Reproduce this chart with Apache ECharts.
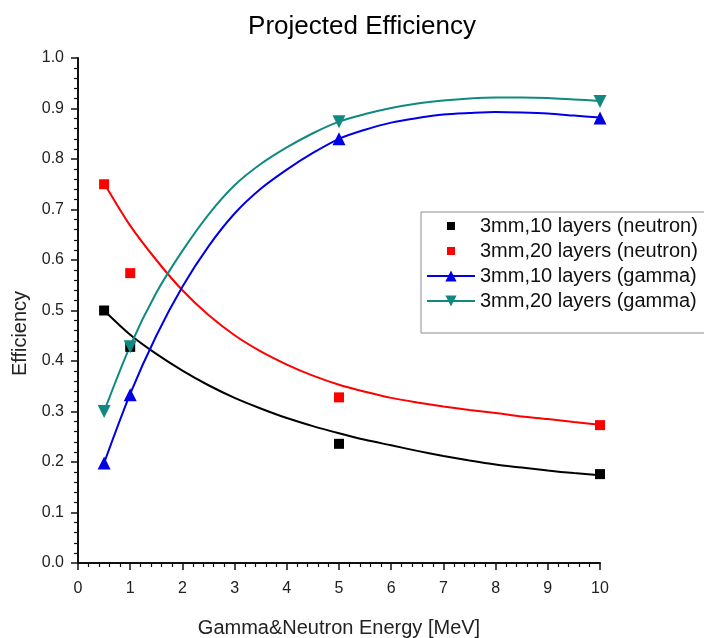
<!DOCTYPE html>
<html>
<head>
<meta charset="utf-8">
<title>Projected Efficiency</title>
<script src="https://cdn.jsdelivr.net/npm/echarts@6/dist/echarts.min.js"></script>
<style>
  html, body { margin: 0; padding: 0; background: #fff; }
  #chart { width: 704px; height: 638px; }
</style>
</head>
<body>
<div id="chart"></div>
<script>
// Measured points (energy in MeV)
const energies = [0.5, 1, 5, 10];
const neutron10 = [0.50, 0.428, 0.236, 0.176];
const neutron20 = [0.750, 0.574, 0.328, 0.273];
const gamma10 = [0.198, 0.333, 0.840, 0.881];
const gamma20 = [0.300, 0.428, 0.874, 0.914];

// Fitted trend curves, sampled every 0.5 MeV
const fitEnergies = [0.5, 1, 1.5, 2, 2.5, 3, 3.5, 4, 4.5, 5, 5.5, 6, 6.5, 7, 7.5, 8, 8.5, 9, 9.5, 10];
const fitNeutron10 = [0.500, 0.452, 0.414, 0.381, 0.352, 0.327, 0.306, 0.287, 0.271, 0.257, 0.244, 0.233, 0.222, 0.212, 0.203, 0.195, 0.189, 0.183, 0.178, 0.174];
const fitNeutron20 = [0.752, 0.668, 0.600, 0.540, 0.491, 0.451, 0.419, 0.393, 0.371, 0.353, 0.339, 0.327, 0.318, 0.310, 0.303, 0.297, 0.290, 0.285, 0.279, 0.274];
const fitGamma10 = [0.198, 0.335, 0.450, 0.547, 0.627, 0.692, 0.741, 0.779, 0.812, 0.840, 0.858, 0.872, 0.881, 0.888, 0.891, 0.893, 0.892, 0.890, 0.886, 0.882];
const fitGamma20 = [0.300, 0.430, 0.535, 0.618, 0.690, 0.748, 0.790, 0.823, 0.851, 0.874, 0.889, 0.901, 0.910, 0.916, 0.920, 0.922, 0.922, 0.921, 0.918, 0.915];

const seriesNames = [
  '3mm,10 layers (neutron)',
  '3mm,20 layers (neutron)',
  '3mm,10 layers (gamma)',
  '3mm,20 layers (gamma)'
];

const C_BLACK = '#000000';
const C_RED = '#ff0000';
const C_BLUE = '#0000e6';
const C_TEAL = '#108a80';

const FONT = 'Liberation Sans, Arial, sans-serif';

function pairs(xs, ys) {
  return xs.map((x, i) => [x, ys[i]]);
}

// Small square legend icon with transparent margin around it
const smallSquare = 'path://M0,0M14,14M3,3L11,3L11,11L3,11Z';
const downTriangle = 'path://M0,0L10,0L5,9Z';

function fitLine(name, data, color, symbol) {
  return {
    name: name,
    type: 'line',
    data: data,
    smooth: 0.3,
    symbol: symbol || 'none',
    showSymbol: false,
    lineStyle: { color: color, width: 2 },
    itemStyle: { color: color },
    emphasis: { disabled: true },
    z: 2
  };
}

function markers(name, data, color, symbol, size) {
  return {
    name: name,
    type: 'scatter',
    data: data,
    symbol: symbol,
    symbolSize: size,
    itemStyle: { color: color, opacity: 1 },
    emphasis: { disabled: true },
    z: 3
  };
}

const chart = echarts.init(document.getElementById('chart'), null, { renderer: 'canvas' });

chart.setOption({
  animation: false,
  backgroundColor: '#ffffff',
  title: {
    text: 'Projected Efficiency',
    left: 357,
    top: 9,
    textAlign: 'center',
    textStyle: { fontFamily: FONT, fontSize: 26, fontWeight: 'normal', color: '#000' }
  },
  legend: {
    orient: 'vertical',
    left: 421,
    top: 212,
    padding: [4, 30, 22, 5],
    itemWidth: 48,
    itemHeight: 14,
    itemGap: 5,
    borderColor: '#8c8c8c',
    borderWidth: 1,
    backgroundColor: '#ffffff',
    textStyle: { fontFamily: FONT, fontSize: 20, color: '#111' },
    selectedMode: false,
    data: [
      { name: seriesNames[0], icon: smallSquare },
      { name: seriesNames[1], icon: smallSquare },
      { name: seriesNames[2] },
      { name: seriesNames[3] }
    ]
  },
  grid: { left: 78, right: 104, top: 58, bottom: 75, containLabel: false, outerBoundsMode: 'none' },
  xAxis: {
    type: 'value',
    min: 0,
    max: 10,
    interval: 1,
    name: 'Gamma&Neutron Energy [MeV]',
    nameLocation: 'middle',
    nameGap: 55,
    nameTextStyle: { fontFamily: FONT, fontSize: 20, color: '#222' },
    axisLine: { show: true, onZero: false, lineStyle: { color: '#111', width: 2 } },
    axisTick: { show: true, inside: false, length: 7, lineStyle: { color: '#111', width: 1.5 } },
    minorTick: { show: true, splitNumber: 5, length: 4, lineStyle: { color: '#111', width: 1.2 } },
    axisLabel: { fontFamily: FONT, fontSize: 16, color: '#222', margin: 18 },
    splitLine: { show: false }
  },
  yAxis: {
    type: 'value',
    min: 0,
    max: 1,
    interval: 0.1,
    name: 'Efficiency',
    nameLocation: 'middle',
    nameGap: 48,
    nameTextStyle: { fontFamily: FONT, fontSize: 20, color: '#222', padding: [0, 46, 0, 0] },
    axisLine: { show: true, onZero: false, lineStyle: { color: '#111', width: 2 } },
    axisTick: { show: true, inside: false, length: 7, lineStyle: { color: '#111', width: 1.5 } },
    minorTick: { show: true, splitNumber: 5, length: 4, lineStyle: { color: '#111', width: 1.2 } },
    axisLabel: {
      fontFamily: FONT, fontSize: 16, color: '#222', margin: 14,
      formatter: v => v.toFixed(1)
    },
    splitLine: { show: false }
  },
  series: [
    fitLine(seriesNames[0] + ' fit', pairs(fitEnergies, fitNeutron10), C_BLACK),
    fitLine(seriesNames[1] + ' fit', pairs(fitEnergies, fitNeutron20), C_RED),
    fitLine(seriesNames[2], pairs(fitEnergies, fitGamma10), C_BLUE, 'triangle'),
    fitLine(seriesNames[3], pairs(fitEnergies, fitGamma20), C_TEAL, downTriangle),
    markers(seriesNames[0], pairs(energies, neutron10), C_BLACK, 'rect', 10),
    markers(seriesNames[1], pairs(energies, neutron20), C_RED, 'rect', 10),
    markers(seriesNames[2] + ' points', pairs(energies, gamma10), C_BLUE, 'triangle', 13),
    markers(seriesNames[3] + ' points', pairs(energies, gamma20), C_TEAL, downTriangle, 13)
  ]
});
</script>
</body>
</html>
